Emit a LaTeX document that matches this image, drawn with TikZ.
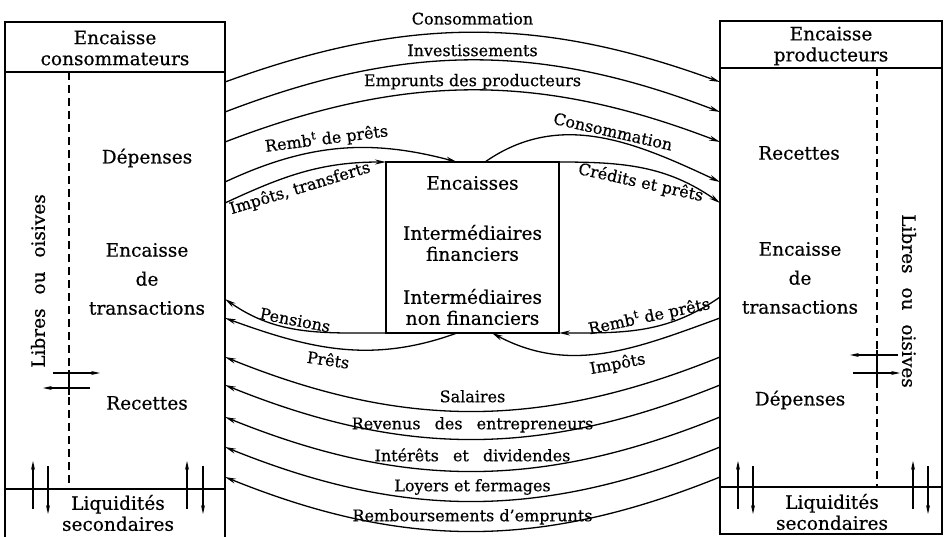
\documentclass[tikz,border=0pt]{standalone}
\usepackage{fontspec}
\setmainfont{DejaVu Serif}[BoldFont=DejaVu Serif, BoldFeatures={FakeBold=0.5}]
\usetikzlibrary{arrows.meta}

\newcommand{\boxfont}{\fontsize{18.5}{21}\selectfont\bfseries}
\newcommand{\flowfont}{\fontsize{16}{18}\selectfont\bfseries}

\begin{document}
\begin{tikzpicture}[x=1pt,y=1pt,>={Stealth[length=11pt,width=5pt]},
    box/.style={draw, line width=1.8pt, inner sep=0pt, outer sep=0pt},
    lbl/.style={font=\boxfont, align=center},
    flow/.style={font=\flowfont, inner sep=2pt}]
    \useasboundingbox (0,0) rectangle (944,536);

    % the three cash boxes
    \node [box, minimum width=220pt, minimum height=516pt] (cons) at (115,256) {};
    \node [box, minimum width=222pt, minimum height=513pt] (prod) at (831,258.5) {};
    \node [box, minimum width=173pt, minimum height=171pt] (fin) at (472.5,288.5) {};

    \draw[line width=1.8pt] (cons.west |- 0,464) -- (cons.east |- 0,464)
        (cons.west |- 0,47) -- (cons.east |- 0,47);
    \draw[line width=1.8pt] (prod.west |- 0,468) -- (prod.east |- 0,468)
        (prod.west |- 0,49) -- (prod.east |- 0,49);
    \draw[line width=1.4pt, dash pattern=on 8pt off 5pt] (69,464) -- (69,47);
    \draw[line width=1.4pt, dash pattern=on 8pt off 5pt] (877,468) -- (877,49);

    % texts in the boxes
    \node [lbl] (cons-head) at (115,488) {Encaisse\\consommateurs};
    \node [lbl] (cons-dep) at (147,378) {Dépenses};
    \node [lbl, font=\fontsize{18.5}{29}\selectfont\bfseries] (cons-tr) at (147,257) {Encaisse\\de\\transactions};
    \node [lbl] (cons-rec) at (147,133) {Recettes};
    \node [lbl] (cons-liq) at (118,23) {Liquidités\\secondaires};
    \node [lbl, rotate=90] (cons-lib) at (38,255) {Libres\hspace{8pt} ou\hspace{8pt} oisives};

    \node [lbl] (prod-head) at (831,490) {Encaisse\\producteurs};
    \node [lbl] (prod-rec) at (799,383) {Recettes};
    \node [lbl, font=\fontsize{18.5}{29}\selectfont\bfseries] (prod-tr) at (800,258) {Encaisse\\de\\transactions};
    \node [lbl] (prod-dep) at (800,136) {Dépenses};
    \node [lbl] (prod-liq) at (832,24) {Liquidités\\secondaires};
    \node [lbl, rotate=-90] (prod-lib) at (909,235) {Libres\hspace{8pt} ou\hspace{8pt} oisives};

    \node [lbl] (fin-enc) at (472.5,353) {Encaisses};
    \node [lbl] (fin-ifi) at (472.5,293) {Intermédiaires\\financiers};
    \node [lbl] (fin-inf) at (472.5,229) {Intermédiaires\\non financiers};

    % flows towards the producers
    \path[->, line width=1.3pt]
        (cons.east |- 0,454) edge[bend left=20] node[flow, anchor=base, yshift=8pt] {Consommation} (prod.west |- 0,454)
        (cons.east |- 0,424) edge[bend left=21] node[flow, anchor=base, yshift=4pt] {Investissements} (prod.west |- 0,424)
        (cons.east |- 0,394) edge[bend left=21] node[flow, anchor=base, yshift=4pt] {Emprunts des producteurs} (prod.west |- 0,394)
        (cons.east |- 0,354) edge[out=25, in=165] node[flow, sloped, above, pos=.45] {Remb\textsuperscript{t} de prêts} ([xshift=-15.5pt]fin.north)
        (cons.east |- 0,333) edge[out=25, in=180] node[flow, sloped, below=4pt, pos=.45] {Impôts, transferts} (fin.north west)
        ([xshift=12.5pt]fin.north) edge[out=35, in=155] node[flow, sloped, above, pos=.55] {Consommation} (prod.west |- 0,354)
        (fin.north east) edge[out=0, in=145] node[flow, sloped, below=4pt, pos=.5] {Crédits et prêts} (prod.west |- 0,333);

    % flows towards the consumers
    \path[<-, line width=1.3pt]
        (cons.east |- 0,237) edge[out=-35, in=180] node[flow, sloped, above, pos=.45] {Pensions} (fin.south west)
        (cons.east |- 0,218) edge[out=-20, in=-160] node[flow, sloped, below=3pt, pos=.45] {Prêts} ([xshift=-15.5pt]fin.south)
        (fin.south east) edge[out=0, in=-145] node[flow, sloped, above, pos=.55] {Remb\textsuperscript{t} de prêts} (prod.west |- 0,239)
        ([xshift=19.5pt]fin.south) edge[out=-28, in=-160] node[flow, sloped, below=3pt, pos=.55] {Impôts} (prod.west |- 0,218)
        (cons.east |- 0,179) edge[bend right=22] node[flow, anchor=base, yshift=9pt] {Salaires} (prod.west |- 0,179)
        (cons.east |- 0,151) edge[bend right=22] node[flow, anchor=base, yshift=10pt] {Revenus\hspace{9pt} des\hspace{9pt} entrepreneurs} (prod.west |- 0,151)
        (cons.east |- 0,119) edge[bend right=22] node[flow, anchor=base, yshift=10pt] {Intérêts\hspace{9pt} et\hspace{9pt} dividendes} (prod.west |- 0,119)
        (cons.east |- 0,89) edge[bend right=22] node[flow, anchor=base, yshift=10pt] {Loyers et fermages} (prod.west |- 0,89)
        (cons.east |- 0,59) edge[bend right=22] node[flow, anchor=base, yshift=10pt] {Remboursements d'emprunts} (prod.west |- 0,59);

    % exchanges with idle cash and secondary liquidity
    \foreach \x in {33,187,738,913}
        \draw[-{Stealth[length=9pt,width=4pt]}, line width=1.2pt] (\x,27) -- (\x,75);
    \foreach \x in {48,203,753,928}
        \draw[-{Stealth[length=9pt,width=4pt]}, line width=1.2pt] (\x,70) -- (\x,22);
    \draw[-{Stealth[length=9pt,width=4pt]}, line width=1.2pt] (53,163) -- (100,163);
    \draw[-{Stealth[length=9pt,width=4pt]}, line width=1.2pt] (90,148) -- (43,148);
    \draw[line width=1.2pt] (69,141) -- (69,166);
    \draw[-{Stealth[length=9pt,width=4pt]}, line width=1.2pt] (898,181) -- (850,181);
    \draw[-{Stealth[length=9pt,width=4pt]}, line width=1.2pt] (853,163) -- (900,163);
    \draw[line width=1.2pt] (877,156) -- (877,186);
\end{tikzpicture}
\end{document}
